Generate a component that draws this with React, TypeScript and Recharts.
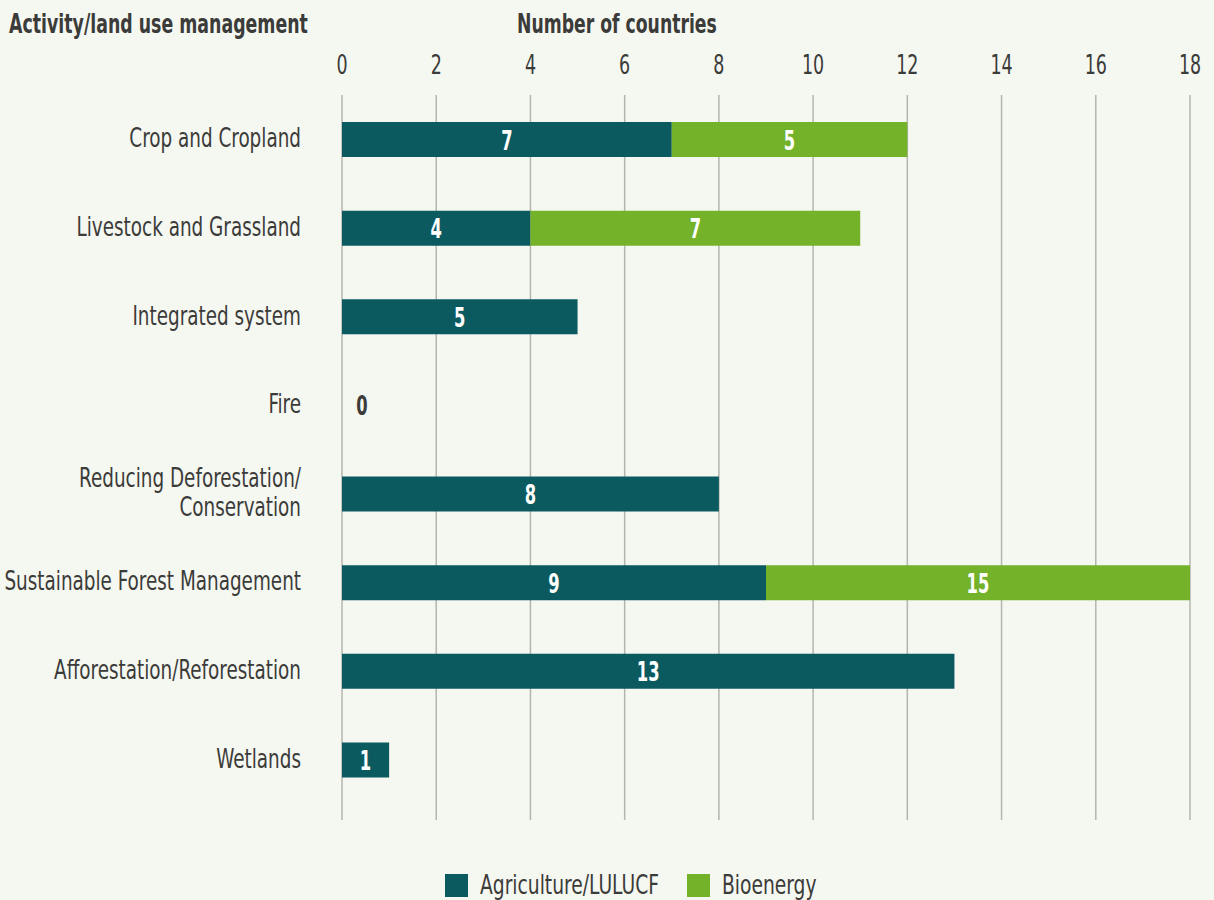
import { Bar, BarChart, CartesianGrid, LabelList, XAxis, YAxis } from 'recharts'

const categories = [
  'Crop and Cropland',
  'Livestock and Grassland',
  'Integrated system',
  'Fire',
  'Reducing Deforestation/\nConservation',
  'Sustainable Forest Management',
  'Afforestation/Reforestation',
  'Wetlands',
]
const agriculture = [7, 4, 5, 0, 8, 9, 13, 1]
const bioenergy: (number | null)[] = [5, 7, null, null, null, 15, null, null]
const xTicks = [0, 2, 4, 6, 8, 10, 12, 14, 16, 18]
const legendItems = [
  { label: 'Agriculture/LULUCF', key: 'agri' },
  { label: 'Bioenergy', key: 'bio' },
]

const AGRI = '#0b5a60'
const BIO = '#74b22a'
const TEXT = '#3b3b39'
const GRID = '#b3b6ae'
const BG = '#f5f7f1'
const FONT = '"DejaVu Sans Condensed", "DejaVu Sans", sans-serif'
const PLOT_LEFT = 342

const chartData = categories.map((name, i) => ({
  name,
  agri: agriculture[i],
  bio: bioenergy[i],
}))

// the source font is a tall condensed face; squeeze DejaVu horizontally to get close
function NarrowText({
  x,
  y,
  sx,
  size,
  weight = 400,
  anchor = 'start',
  fill = TEXT,
  children,
}: {
  x: number
  y: number
  sx: number
  size: number
  weight?: number
  anchor?: 'start' | 'middle' | 'end'
  fill?: string
  children: React.ReactNode
}) {
  return (
    <text
      transform={`translate(${x},${y}) scale(${sx},1)`}
      textAnchor={anchor}
      fill={fill}
      fontSize={size}
      fontWeight={weight}
      fontFamily={FONT}
    >
      {children}
    </text>
  )
}

function CategoryTick({ y, index, payload }: { y: number; index: number; payload: { value: string } }) {
  const lines = String(payload.value).split('\n')
  const lh = 29
  const start = -((lines.length - 1) * lh) / 2
  // zero-width bars get no label from Recharts, so the "0" is drawn here
  const isZero = agriculture[index] === 0 && bioenergy[index] == null
  return (
    <g>
      {lines.map((l, i) => (
        <NarrowText key={i} x={301} y={y + start + i * lh + 8} sx={0.757} size={27} anchor="end">
          {l}
        </NarrowText>
      ))}
      {isZero ? (
        <NarrowText x={PLOT_LEFT + 20} y={y + 10} sx={0.7} size={26} weight={700} anchor="middle">
          0
        </NarrowText>
      ) : null}
    </g>
  )
}

function NumberTick({ x, payload }: { x: number; payload: { value: number } }) {
  return (
    <NarrowText x={x} y={74} sx={0.72} size={27} anchor="middle">
      {payload.value}
    </NarrowText>
  )
}

function BarValue(props: any) {
  const { x, y, width, height, value } = props
  if (value == null || Number(value) === 0) return null
  return (
    <NarrowText
      x={Number(x) + Number(width) / 2}
      y={Number(y) + Number(height) / 2 + 10}
      sx={0.7}
      size={26}
      weight={700}
      anchor="middle"
      fill="#ffffff"
    >
      {value}
    </NarrowText>
  )
}

export default function App() {
  const colors: Record<string, string> = { agri: AGRI, bio: BIO }
  return (
    <div style={{ position: 'absolute', left: 0, top: 0, width: 1214, height: 900, background: BG }}>
      <BarChart
        width={1214}
        height={900}
        data={chartData}
        layout="vertical"
        barSize={35}
        margin={{ top: 45, right: 24, left: 0, bottom: 80 }}
      >
        <CartesianGrid horizontal={false} stroke={GRID} strokeWidth={1.5} />
        <XAxis
          type="number"
          orientation="top"
          domain={[0, 18]}
          ticks={xTicks}
          allowDataOverflow
          axisLine={false}
          tickLine={false}
          height={50}
          tick={(p: any) => <NumberTick x={Number(p.x)} payload={p.payload} />}
        />
        <YAxis
          type="category"
          dataKey="name"
          width={PLOT_LEFT}
          axisLine={false}
          tickLine={false}
          interval={0}
          padding={{ top: 0, bottom: 16 }}
          tick={(p: any) => <CategoryTick y={Number(p.y)} index={p.index} payload={p.payload} />}
        />
        <Bar dataKey="agri" stackId="a" fill={AGRI} isAnimationActive={false}>
          <LabelList dataKey="agri" content={BarValue} />
        </Bar>
        <Bar dataKey="bio" stackId="a" fill={BIO} isAnimationActive={false}>
          <LabelList dataKey="bio" content={BarValue} />
        </Bar>
      </BarChart>
      <svg
        width={1214}
        height={900}
        style={{ position: 'absolute', left: 0, top: 0, pointerEvents: 'none' }}
      >
        <NarrowText x={9} y={33} sx={0.715} size={27} weight={700}>
          Activity/land use management
        </NarrowText>
        <NarrowText x={517} y={33} sx={0.71} size={27} weight={700}>
          Number of countries
        </NarrowText>
        {legendItems.map((item, i) => {
          const left = i === 0 ? 445 : 687
          return (
            <g key={item.key}>
              <rect x={left} y={874} width={23} height={23} fill={colors[item.key]} />
              <NarrowText x={left + 35} y={894} sx={0.77} size={27}>
                {item.label}
              </NarrowText>
            </g>
          )
        })}
      </svg>
    </div>
  )
}
